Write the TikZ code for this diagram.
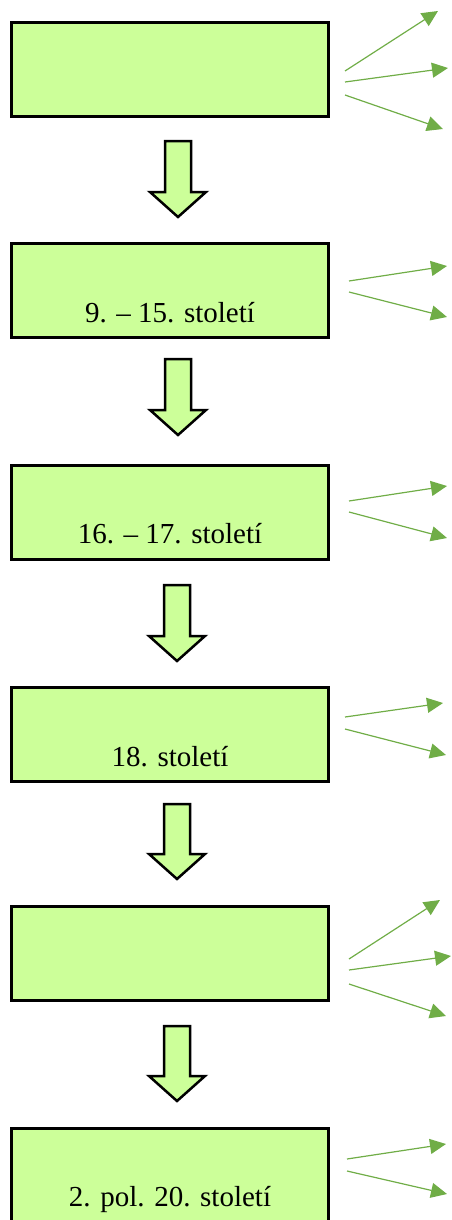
\documentclass[tikz,border=0pt]{standalone}
\usepackage{fontspec}
\setmainfont{Liberation Serif}
\usetikzlibrary{positioning}
\usetikzlibrary{arrows.meta}
\definecolor{boxgreen}{RGB}{204,255,153}
\definecolor{sidegreen}{RGB}{112,173,71}
\tikzset{
    era/.style={draw, line width=3pt, fill=boxgreen, minimum width=317pt, minimum height=94pt, inner sep=0pt},
    datum/.style={anchor=base, inner sep=0pt, font=\fontsize{29}{34}\selectfont},
    bigdown/.style={draw, line width=2.5pt, fill=boxgreen, line join=miter},
    side/.style={draw=sidegreen, line width=1.2pt, -{Triangle[length=16pt, width=15pt]}, sidegreen}
}
\begin{document}
\begin{tikzpicture}[x=1pt, y=-1pt]
            \useasboundingbox (0,0) rectangle (451,1220);

            % epochs
            \node[era] (e1) at (170,70) {};
            \node[era] (e2) at (170,290.5) {};
            \node[era] (e3) at (170,512.5) {};
            \node[era] (e4) at (170,734.5) {};
            \node[era] (e5) at (170,953) {};
            \node[era] (e6) at (170,1175.5) {};

            \node[datum] (d2) at ([yshift=-80pt]e2.north) {9. – 15. století};
            \node[datum] (d3) at ([yshift=-79.5pt]e3.north) {16. – 17. století};
            \node[datum] (d4) at ([yshift=-80pt]e4.north) {18. století};
            \node[datum] (d6) at ([yshift=-79.5pt]e6.north) {2. pol. 20. století};

            % big arrows between epochs
            \foreach \x/\t/\h/\p in {178/141/192/217, 178/359/410/435, 177/585/636/661, 177/804/854/879, 177/1026/1076/1101}
            {
                \draw[bigdown] (\x-13,\t) -- (\x+13,\t) -- (\x+13,\h) -- (\x+28,\h)
                    -- (\x,\p) -- (\x-28,\h) -- (\x-13,\h) -- cycle;
            }

            % side arrows
            \coordinate (s1a) at (345,71);   \coordinate (t1a) at (438,11);
            \coordinate (s1b) at (345,82);   \coordinate (t1b) at (448,68);
            \coordinate (s1c) at (345,95);   \coordinate (t1c) at (443,129);
            \coordinate (s2a) at (349,281);  \coordinate (t2a) at (447,266);
            \coordinate (s2b) at (349,292);  \coordinate (t2b) at (447,317);
            \coordinate (s3a) at (349,501);  \coordinate (t3a) at (447,486);
            \coordinate (s3b) at (349,512);  \coordinate (t3b) at (447,538);
            \coordinate (s4a) at (345,717);  \coordinate (t4a) at (443,703);
            \coordinate (s4b) at (345,729);  \coordinate (t4b) at (446,755);
            \coordinate (s5a) at (349,959);  \coordinate (t5a) at (440,900);
            \coordinate (s5b) at (349,970);  \coordinate (t5b) at (451,956);
            \coordinate (s5c) at (349,984);  \coordinate (t5c) at (446,1016);
            \coordinate (s6a) at (347,1159); \coordinate (t6a) at (446,1144);
            \coordinate (s6b) at (347,1171); \coordinate (t6b) at (447,1194);

            \draw[side] (s1a) -- (t1a);
            \draw[side] (s1b) -- (t1b);
            \draw[side] (s1c) -- (t1c);
            \draw[side] (s2a) -- (t2a);
            \draw[side] (s2b) -- (t2b);
            \draw[side] (s3a) -- (t3a);
            \draw[side] (s3b) -- (t3b);
            \draw[side] (s4a) -- (t4a);
            \draw[side] (s4b) -- (t4b);
            \draw[side] (s5a) -- (t5a);
            \draw[side] (s5b) -- (t5b);
            \draw[side] (s5c) -- (t5c);
            \draw[side] (s6a) -- (t6a);
            \draw[side] (s6b) -- (t6b);
        \end{tikzpicture}
\end{document}
